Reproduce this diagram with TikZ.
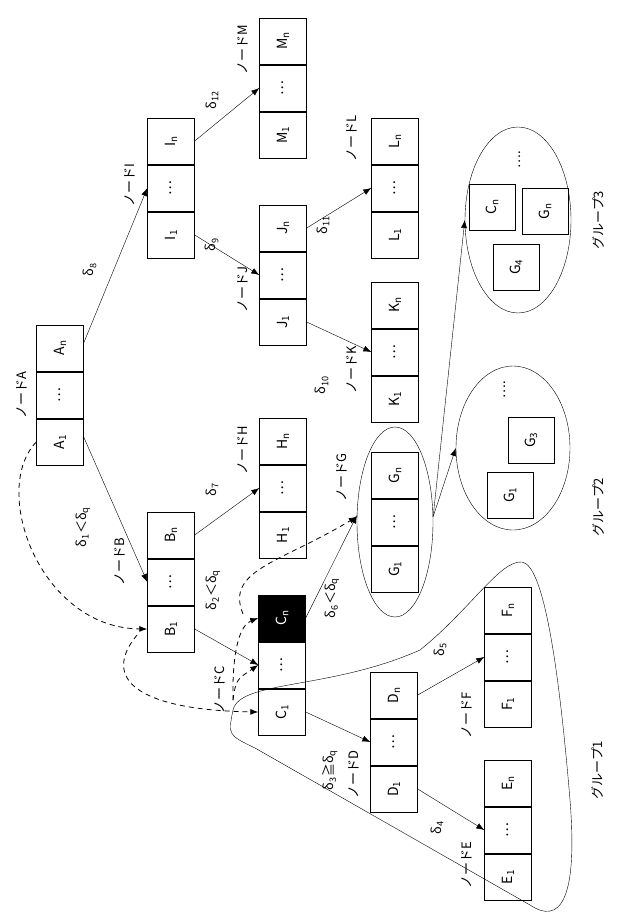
\documentclass[tikz,border=0pt]{standalone}
\usepackage{fontspec}
\setmainfont{Noto Sans CJK JP}
\usetikzlibrary{arrows.meta, shapes.geometric}

% one row of three cells: name, left x, top y, letter
\newcommand\trip[4]{%
  \node[cell] (#1n) at (#2+23,#3+23) {#4\textsubscript{n}};
  \node[cell] (#1d) at (#2+23,#3+70) {…};
  \node[cell] (#11) at (#2+23,#3+117) {#4\textsubscript{1}};
}

\begin{document}
\begin{tikzpicture}
    [x=1pt, y=-1pt,
     cell/.style={draw, minimum width=46pt, minimum height=47pt, inner sep=0pt,
                  font=\fontsize{14}{16}\selectfont, rotate=90},
     box/.style={draw, minimum size=46pt, inner sep=0pt,
                 font=\fontsize{14}{16}\selectfont, rotate=90},
     lbl/.style={font=\fontsize{13}{15}\selectfont, rotate=90},
     arr/.style={-{Latex[length=8pt]}},
     darr/.style={dashed, dash pattern=on 5pt off 4pt, thick, -{Latex[length=8pt]}}]

    \useasboundingbox (0,0) rectangle (622,921);

    \trip{A}{37}{325}{A}
    \trip{B}{148}{512}{B}
    \trip{H}{260}{418}{H}
    \trip{I}{148}{118}{I}
    \trip{J}{260}{205}{J}
    \trip{K}{372}{282}{K}
    \trip{L}{372}{118}{L}
    \trip{M}{260}{18}{M}
    \trip{C}{259}{595}{C}
    \trip{D}{371}{672}{D}
    \trip{E}{485}{760}{E}
    \trip{F}{485}{587}{F}
    \trip{G}{372}{452}{G}
    \node[cell, fill=black, text=white] at (Cn) {C\textsubscript{n}};

    % groups
    \node[draw, ellipse, minimum width=76pt, minimum height=190pt] (grpG) at (395,522) {};
    \node[draw, ellipse, minimum width=114pt, minimum height=164pt] (grp2) at (513,448) {};
    \node[draw, ellipse, minimum width=106pt, minimum height=186pt] (grp3) at (518,220) {};
    \node[box] (g21) at (510,495) {G\textsubscript{1}};
    \node[box] (g23) at (531,440) {G\textsubscript{3}};
    \node[lbl] (g2dots) at (505,390) {….};
    \node[box] (g3c) at (492,207) {C\textsubscript{n}};
    \node[box] (g3g) at (545,211) {G\textsubscript{n}};
    \node[box] (g34) at (516,267) {G\textsubscript{4}};
    \node[lbl] (g3dots) at (520,160) {….};

    \draw (233,710) .. controls (240,680) and (330,690) .. (420,650)
          .. controls (470,610) and (500,560) .. (522,562)
          .. controls (545,565) and (560,680) .. (570,800)
          .. controls (578,900) and (560,925) .. (530,905)
          -- (255,748) .. controls (228,735) .. (233,710);

    % arrows
    \draw[arr] (A1.south) ++(0,-5) -- (Bd.north);
    \draw[arr] (An.south) ++(0,-5) -- (Id.north);
    \draw[arr] (Bn.south) -- (Hd.north);
    \draw[arr] (I1.south) -- (Jd.north);
    \draw[arr] (In.south) -- (Md.north);
    \draw[arr] (Jn.south) -- (Ld.north);
    \draw[arr] (J1.south) -- (Kd.north);
    \draw[arr] (B1.south) -- (Cd.north);
    \draw[arr] (C1.south) -- (Dd.north);
    \draw[arr] (Cn.south) -- (grpG.170);
    \draw[arr] (Dn.south) -- (Fd.north);
    \draw[arr] (D1.south) -- (Ed.north);
    \draw[arr] (grpG.8) -- (grp2.west);
    \draw[arr] (grpG.8) -- (grp3.west);

    % dashed moves
    \draw[darr] (A1.north) .. controls (-10,490) and (40,628) .. (B1.north);
    \draw[darr] (137,635) .. controls (100,680) and (140,710) .. (C1.north);
    \draw[darr] (233,700) .. controls (232,650) and (240,625) .. (Cn.north);
    \draw[darr] (233,700) .. controls (236,680) .. (Cd.north);
    \draw[darr] (243,614) .. controls (225,570) and (280,563) .. (grpG.172);

    % labels
    \node[lbl] (lA) at (22,395) {ノードA};
    \node[lbl] (lI) at (130,185) {ノードI};
    \node[lbl] (l8) at (90,270) {δ\textsubscript{8}};
    \node[lbl] (lB) at (120,562) {ノードB};
    \node[lbl] (l1) at (83,527) {δ\textsubscript{1}＜δ\textsubscript{q}};
    \node[lbl] (lH) at (243,450) {ノードH};
    \node[lbl] (l7) at (212,490) {δ\textsubscript{7}};
    \node[lbl] (l2) at (213,590) {δ\textsubscript{2}＜δ\textsubscript{q}};
    \node[lbl] (lC) at (220,690) {ノードC};
    \node[lbl] (l6) at (332,598) {δ\textsubscript{6}＜δ\textsubscript{q}};
    \node[lbl] (lG) at (342,478) {ノードG};
    \node[lbl] (lD) at (354,775) {ノードD};
    \node[lbl] (l3) at (330,770) {δ\textsubscript{3}≧δ\textsubscript{q}};
    \node[lbl] (l4) at (437,828) {δ\textsubscript{4}};
    \node[lbl] (lE) at (467,865) {ノードE};
    \node[lbl] (l5) at (440,650) {δ\textsubscript{5}};
    \node[lbl] (lF) at (467,715) {ノードF};
    \node[lbl] (l9) at (212,245) {δ\textsubscript{9}};
    \node[lbl] (lJ) at (243,290) {ノードJ};
    \node[lbl] (l10) at (322,385) {δ\textsubscript{10}};
    \node[lbl] (lK) at (352,370) {ノードK};
    \node[lbl] (l11) at (323,225) {δ\textsubscript{11}};
    \node[lbl] (lL) at (352,138) {ノードL};
    \node[lbl] (l12) at (212,100) {δ\textsubscript{12}};
    \node[lbl] (lM) at (243,50) {ノードM};
    \node[lbl] (lg1) at (597,770) {グループ1};
    \node[lbl] (lg2) at (598,507) {グループ2};
    \node[lbl] (lg3) at (598,220) {グループ3};
\end{tikzpicture}
\end{document}
